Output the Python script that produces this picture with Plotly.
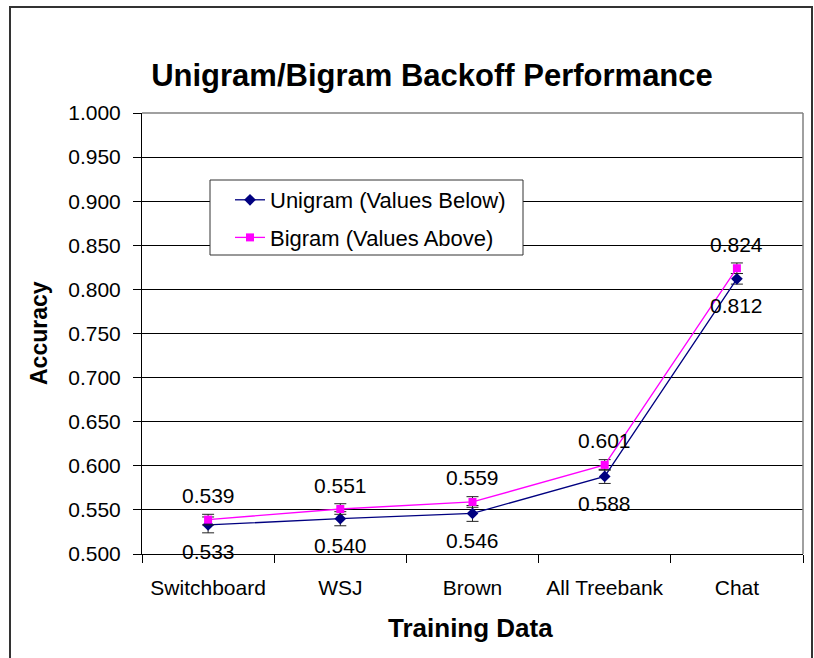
import plotly.graph_objects as go

categories = ["Switchboard", "WSJ", "Brown", "All Treebank", "Chat"]
unigram = [0.533, 0.540, 0.546, 0.588, 0.812]
bigram = [0.539, 0.551, 0.559, 0.601, 0.824]
unigram_err = [0.009, 0.008, 0.009, 0.008, 0.006]
bigram_err = [0.006, 0.006, 0.006, 0.006, 0.006]
y_ticks = [0.50, 0.55, 0.60, 0.65, 0.70, 0.75, 0.80, 0.85, 0.90, 0.95, 1.00]

FONT = "Liberation Sans, Arial, sans-serif"
W, H = 814, 658
L, R, T, B = 142, 11, 113, 104
pw, ph = W - L - R, H - T - B


def px_x(x):
    return (x - L) / pw


def px_y(y):
    return (H - B - y) / ph


fig = go.Figure()
fig.add_trace(go.Scatter(
    x=categories, y=unigram, name="Unigram (Values Below)", mode="lines+markers",
    line=dict(color="#000080", width=1.3),
    marker=dict(symbol="diamond", size=9, color="#000080"),
    error_y=dict(type="data", array=unigram_err, color="#222222", thickness=1, width=6),
    legendgroup="u",
))
fig.add_trace(go.Scatter(
    x=categories, y=bigram, name="Bigram (Values Above)", mode="lines+markers",
    line=dict(color="#FF00FF", width=1.3),
    marker=dict(symbol="square", size=8, color="#FF00FF"),
    error_y=dict(type="data", array=bigram_err, color="#222222", thickness=1, width=6),
    legendgroup="b",
))

annotations = []
for c, v in zip(categories, unigram):
    annotations.append(dict(x=c, y=v, xref="x", yref="y", text=f"{v:.3f}", showarrow=False,
                            yshift=-27, font=dict(family=FONT, size=21, color="black")))
for c, v in zip(categories, bigram):
    annotations.append(dict(x=c, y=v, xref="x", yref="y", text=f"{v:.3f}", showarrow=False,
                            yshift=24, font=dict(family=FONT, size=21, color="black")))
annotations.append(dict(x=px_x(470), y=px_y(628), xref="paper", yref="paper", text="Training Data",
                        showarrow=False, xanchor="center", yanchor="middle",
                        font=dict(family=FONT, size=26, color="black", weight="bold")))
annotations.append(dict(x=px_x(39), y=px_y(333), xref="paper", yref="paper", text="Accuracy",
                        showarrow=False, xanchor="center", yanchor="middle", textangle=-90,
                        font=dict(family=FONT, size=23, color="black", weight="bold")))

shapes = [
    # outer chart border
    dict(type="rect", xref="paper", yref="paper", x0=px_x(10), x1=px_x(812), y0=px_y(680), y1=px_y(7),
         line=dict(color="#333333", width=2), fillcolor="rgba(0,0,0,0)", layer="below"),
    # plot area top and right border (gray)
    dict(type="line", xref="paper", yref="paper", x0=0, x1=1, y0=1, y1=1,
         line=dict(color="#808080", width=1.5), layer="above"),
    dict(type="line", xref="paper", yref="paper", x0=1, x1=1, y0=0, y1=1,
         line=dict(color="#808080", width=1.5), layer="above"),
    # legend box
    dict(type="rect", xref="paper", yref="paper", x0=px_x(210), x1=px_x(523), y0=px_y(255), y1=px_y(180),
         line=dict(color="#333333", width=1), fillcolor="white", layer="above"),
]

fig.update_layout(
    width=W, height=H,
    margin=dict(l=L, r=R, t=T, b=B),
    paper_bgcolor="white", plot_bgcolor="white",
    font=dict(family=FONT, size=21, color="black"),
    title=dict(text="Unigram/Bigram Backoff Performance", x=432 / W, xanchor="center",
               y=1 - 75 / H, yanchor="middle", xref="container", yref="container",
               font=dict(family=FONT, size=31, color="black", weight="bold")),
    showlegend=True,
    legend=dict(x=px_x(214), y=px_y(179), xanchor="left", yanchor="top",
                bgcolor="rgba(0,0,0,0)", borderwidth=0, indentation=16,
                font=dict(family=FONT, size=22, color="black"),
                tracegroupgap=6, traceorder="grouped"),
    annotations=annotations,
    shapes=shapes,
)
fig.update_xaxes(
    type="category", range=[-0.5, len(categories) - 0.5],
    showgrid=False, showline=True, linecolor="black", linewidth=1,
    ticks="outside", ticklen=8, tickcolor="black", tickson="boundaries",
    ticklabelstandoff=15, tickfont=dict(family=FONT, size=21, color="black"),
    zeroline=False,
)
fig.update_yaxes(
    range=[0.5, 1.0], tickvals=y_ticks, tickformat=".3f",
    showgrid=True, gridcolor="black", gridwidth=1,
    showline=True, linecolor="black", linewidth=1,
    ticks="outside", ticklen=8, tickcolor="black", ticklabelstandoff=8,
    tickfont=dict(family=FONT, size=21, color="black"), zeroline=False,
)

fig.write_html("out.html", config={"displayModeBar": False},
               post_script="document.body.style.margin='0';")
